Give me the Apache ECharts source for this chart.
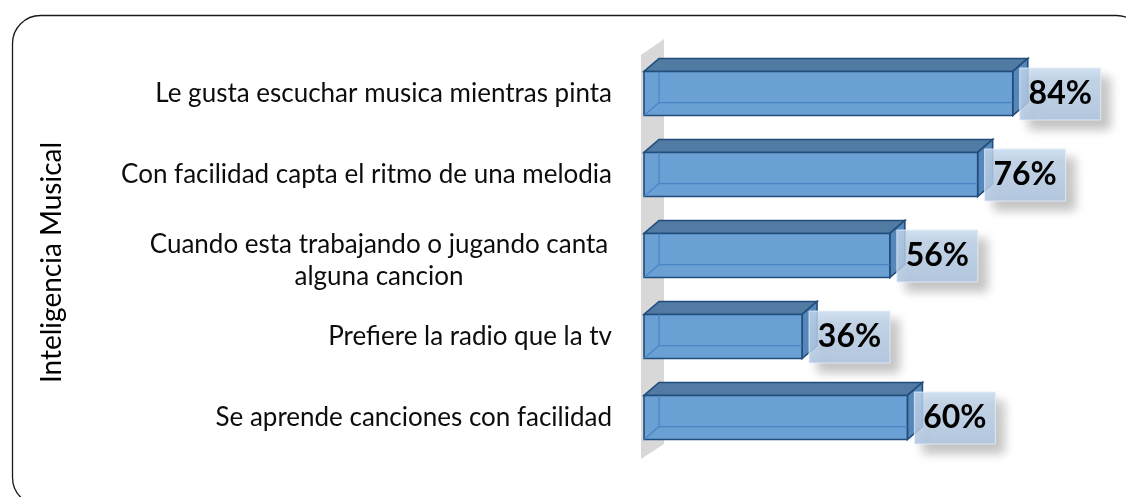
<!DOCTYPE html>
<html>
<head>
<meta charset="utf-8">
<style>
  html, body { margin: 0; padding: 0; background: #fff; }
  #chart { width: 1126px; height: 497px; }
</style>
<script src="https://cdn.jsdelivr.net/npm/echarts@6/dist/echarts.min.js"></script>
</head>
<body>
<div id="chart"></div>
<script>
// categorias (de arriba hacia abajo) y porcentajes
const categories = [
  'Le gusta escuchar musica mientras pinta',
  'Con facilidad capta el ritmo de una melodia',
  'Cuando esta trabajando o jugando canta\nalguna cancion',
  'Prefiere la radio que la tv',
  'Se aprende canciones con facilidad'
]
const values = [84, 76, 56, 36, 60]
const axisTitle = 'Inteligencia Musical'

const chart = echarts.init(document.getElementById('chart'))

const GRID_LEFT = 644
const GRID_TOP = 53
const GRID_H = 405
const DX = 15
const DY = 13

// barra 3D transparente + etiqueta en caja
const renderBar = (params, api) => {
  const v = api.value(0)
  const c = api.value(1)
  const s = api.coord([0, c])
  const e = api.coord([v, c])
  const h = api.size([0, 1])[1] * 0.545
  const x0 = s[0], x1 = e[0]
  const yT = s[1] - h / 2, yB = s[1] + h / 2
  const edge = '#214d7c'
  const inner = 'rgba(70,130,195,0.9)'
  const bw = 81, bh = 52
  const bx = x1 + 7, by = s[1] - bh / 2 + 0.5
  return {
    type: 'group',
    children: [
      {
        type: 'polygon',
        shape: { points: [[x0, yT], [x0 + DX, yT - DY], [x1 + DX, yT - DY], [x1, yT]] },
        style: { fill: '#527ba3', stroke: edge, lineWidth: 1.6 }
      },
      {
        type: 'polygon',
        shape: { points: [[x1, yT], [x1 + DX, yT - DY], [x1 + DX, yB - DY], [x1, yB]] },
        style: { fill: '#5587ba', stroke: edge, lineWidth: 1.6 }
      },
      {
        type: 'rect',
        shape: { x: x0, y: yT, width: x1 - x0, height: h },
        style: { fill: '#6aa0d4', stroke: edge, lineWidth: 1.6 }
      },
      {
        type: 'polyline',
        shape: { points: [[x0 + DX, yT], [x0 + DX, yB - DY], [x1, yB - DY]] },
        style: { fill: null, stroke: inner, lineWidth: 1.2 }
      },
      {
        type: 'line',
        shape: { x1: x0, y1: yB, x2: x0 + DX, y2: yB - DY },
        style: { stroke: inner, lineWidth: 1.2 }
      },
      {
        type: 'rect',
        shape: { x: bx, y: by, width: bw, height: bh },
        style: {
          fill: new echarts.graphic.LinearGradient(0, 0, 0, 1, [
            { offset: 0, color: 'rgba(198,218,240,0.8)' },
            { offset: 1, color: 'rgba(176,199,226,0.88)' }
          ]),
          stroke: 'rgba(230,240,250,0.8)',
          lineWidth: 1,
          shadowBlur: 10,
          shadowOffsetX: 9,
          shadowOffsetY: 9,
          shadowColor: 'rgba(0,0,0,0.28)'
        }
      },
      {
        type: 'text',
        x: bx + bw / 2,
        y: by + bh / 2,
        style: {
          text: v + '%',
          fill: '#000',
          font: 'bold 32px Lato',
          align: 'center',
          verticalAlign: 'middle'
        }
      }
    ]
  }
}

chart.setOption({
  animation: false,
  grid: {
    left: GRID_LEFT,
    top: GRID_TOP,
    width: 439,
    height: GRID_H
  },
  xAxis: {
    type: 'value',
    min: 0,
    max: 100,
    show: false
  },
  yAxis: {
    type: 'category',
    data: categories,
    inverse: true,
    axisLine: { show: false },
    axisTick: { show: false },
    axisLabel: {
      margin: 32,
      color: '#0d0d0d',
      fontFamily: 'Lato',
      fontSize: 26,
      lineHeight: 32,
      formatter: (val) => {
        if (val.indexOf('\n') < 0) return val
        // linea vacia arriba para bajar un poco el bloque de dos lineas
        return '{s| }\n' + val.split('\n').map((t) => '{c|' + t + '}').join('\n')
      },
      rich: {
        s: { fontSize: 1, lineHeight: 10 },
        c: { width: 466, align: 'center', fontFamily: 'Lato', fontSize: 26, color: '#0d0d0d', lineHeight: 32 }
      }
    },
    name: axisTitle,
    nameLocation: 'middle',
    nameRotate: 90,
    nameGap: 578,
    nameTextStyle: { color: '#000', fontFamily: 'Lato', fontSize: 28, padding: [0, 14, 0, 0] }
  },
  graphic: [
    {
      type: 'rect',
      shape: { x: 12.5, y: 15.5, width: 1132, height: 490, r: 28 },
      style: { fill: null, stroke: '#1a1a1a', lineWidth: 1.3 },
      z: -10
    },
    {
      type: 'polygon',
      shape: { points: [[641, 55], [664, 39], [664, 444], [641, 459]] },
      style: { fill: '#d9d8d8' },
      z: -5
    }
  ],
  series: [
    {
      type: 'custom',
      renderItem: renderBar,
      encode: { x: 0, y: 1 },
      data: values.map((v, i) => [v, i]),
      z: 5
    }
  ]
})
</script>
</body>
</html>
